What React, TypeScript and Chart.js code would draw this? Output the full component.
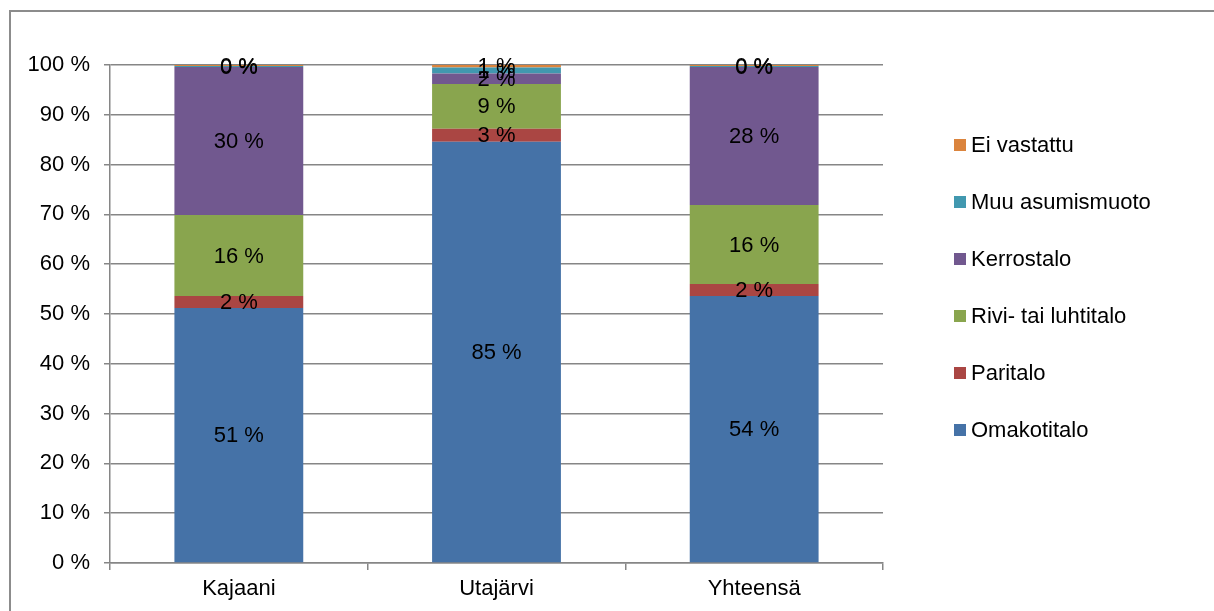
import { useEffect, useRef } from "react";
import { Chart, registerables } from "chart.js";

Chart.register(...registerables);

const categories = ["Kajaani", "Utajärvi", "Yhteensä"];
const omakotitalo = [51.2, 84.6, 53.6];
const paritalo = [2.4, 2.6, 2.4];
const rivitalo = [16.3, 9.0, 15.9];
const kerrostalo = [29.7, 2.1, 27.7];
const muuAsumismuoto = [0.2, 1.2, 0.2];
const eiVastattu = [0.2, 0.5, 0.2];
const seriesNames = ["Omakotitalo", "Paritalo", "Rivi- tai luhtitalo", "Kerrostalo", "Muu asumismuoto", "Ei vastattu"];
const seriesColors = ["#4572A7", "#AA4643", "#89A54E", "#71588F", "#4198AF", "#DB843D"];
const yTickValues = [0, 10, 20, 30, 40, 50, 60, 70, 80, 90, 100];

const FONT = "'Liberation Sans', Arial, sans-serif";
const FONT_SIZE = 22;
const GRID = "#868686";

const borderPlugin = {
  id: "outerBorder",
  beforeDraw(chart: any) {
    const ctx = chart.ctx;
    ctx.save();
    ctx.fillStyle = "#ffffff";
    ctx.fillRect(0, 0, chart.width, chart.height);
    ctx.strokeStyle = "#8c8c8c";
    ctx.lineWidth = 2;
    ctx.beginPath();
    ctx.moveTo(10, chart.height);
    ctx.lineTo(10, 11);
    ctx.lineTo(chart.width, 11);
    ctx.stroke();
    ctx.restore();
  },
};

const labelPlugin = {
  id: "segmentLabels",
  afterDatasetsDraw(chart: any) {
    const ctx = chart.ctx;
    ctx.save();
    ctx.font = `${FONT_SIZE}px ${FONT}`;
    ctx.fillStyle = "#000000";
    ctx.textAlign = "center";
    ctx.textBaseline = "middle";
    chart.data.datasets.forEach((ds: any, di: number) => {
      const meta = chart.getDatasetMeta(di);
      meta.data.forEach((bar: any, i: number) => {
        const p = bar.getProps(["x", "y", "base"], true);
        const v = ds.data[i];
        ctx.fillText(`${Math.round(v)} %`, p.x, (p.y + p.base) / 2 + 1);
      });
    });
    ctx.restore();
  },
};

const legendPlugin = {
  id: "customLegend",
  afterDraw(chart: any) {
    const ctx = chart.ctx;
    ctx.save();
    ctx.font = `${FONT_SIZE}px ${FONT}`;
    ctx.textBaseline = "middle";
    ctx.textAlign = "left";
    const n = chart.data.datasets.length;
    for (let k = 0; k < n; k++) {
      const ds = chart.data.datasets[n - 1 - k];
      const cy = 145 + k * 57;
      ctx.fillStyle = ds.backgroundColor;
      ctx.fillRect(954, cy - 6, 12, 12);
      ctx.fillStyle = "#000000";
      ctx.fillText(ds.label, 971, cy + 1);
    }
    ctx.restore();
  },
};

export default function App() {
  const ref = useRef<HTMLCanvasElement | null>(null);
  useEffect(() => {
    if (!ref.current) return;
    const seriesData = [omakotitalo, paritalo, rivitalo, kerrostalo, muuAsumismuoto, eiVastattu];
    const chart = new Chart(ref.current, {
      type: "bar",
      data: {
        labels: categories,
        datasets: seriesData.map((d, i) => ({
          label: seriesNames[i],
          data: d,
          backgroundColor: seriesColors[i],
          borderWidth: 0,
          barPercentage: 0.5,
          categoryPercentage: 1,
        })),
      },
      options: {
        responsive: false,
        animation: false,
        maintainAspectRatio: false,
        layout: { padding: { left: 0, top: 65, right: 331, bottom: 0 } },
        plugins: {
          legend: { display: false },
          tooltip: { enabled: false },
        },
        scales: {
          x: {
            stacked: true,
            grid: {
              offset: true,
              drawOnChartArea: false,
              drawTicks: true,
              tickLength: 7,
              color: GRID,
              lineWidth: 1.5,
            },
            border: { color: GRID, width: 1.5 },
            ticks: {
              color: "#000000",
              font: { family: FONT, size: FONT_SIZE },
              padding: 6,
            },
            afterFit(scale: any) {
              scale.height = 48;
            },
          },
          y: {
            stacked: true,
            min: 0,
            max: 100,
            afterBuildTicks(scale: any) {
              scale.ticks = yTickValues.map((v) => ({ value: v }));
            },
            grid: {
              color: GRID,
              tickLength: 6,
              drawTicks: true,
              lineWidth: 1.5,
            },
            border: { color: GRID, width: 1.5 },
            ticks: {
              color: "#000000",
              font: { family: FONT, size: FONT_SIZE },
              padding: 14,
              callback: (v: any) => `${v} %`,
            },
            afterFit(scale: any) {
              scale.width = 110;
            },
          },
        },
      },
      plugins: [borderPlugin, labelPlugin, legendPlugin],
    });
    return () => chart.destroy();
  }, []);
  return (
    <div style={{ position: "absolute", left: 0, top: 0, width: 1214, height: 611, overflow: "hidden" }}>
      <canvas ref={ref} width={1214} height={611} style={{ display: "block" }} />
    </div>
  );
}
